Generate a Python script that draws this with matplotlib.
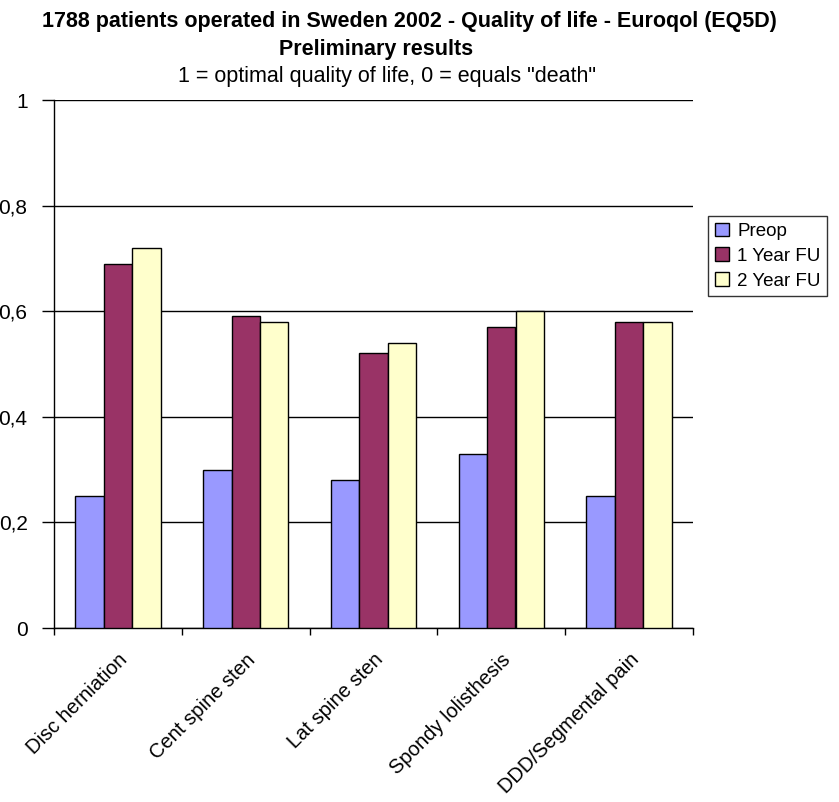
import matplotlib.pyplot as plt
import numpy as np

plt.rcParams['font.family'] = ['Liberation Sans', 'DejaVu Sans']

categories = ['Disc herniation', 'Cent spine sten', 'Lat spine sten',
              'Spondy lolisthesis', 'DDD/Segmental pain']
series = ['Preop', '1 Year FU', '2 Year FU']
preop = [0.25, 0.30, 0.28, 0.33, 0.25]
year1 = [0.69, 0.59, 0.52, 0.57, 0.58]
year2 = [0.72, 0.58, 0.54, 0.60, 0.58]
colors = ['#9999FF', '#993366', '#FFFFCC']

W, H = 839, 802
fig = plt.figure(figsize=(W / 100, H / 100), dpi=100)
ax = fig.add_axes([54 / W, 1 - 628 / H, (693 - 54) / W, (628 - 100) / H])

x = np.arange(len(categories))
w = 1 / 4.5
for i, (vals, c, lab) in enumerate(zip([preop, year1, year2], colors, series)):
    ax.bar(x + (i - 1) * w, vals, w, color=c, edgecolor='black',
           linewidth=1, label=lab, zorder=3)

ax.set_xlim(-0.5, len(categories) - 0.5)
ax.set_ylim(0, 1)
ax.set_yticks(np.arange(0, 1.01, 0.2))
ax.set_yticklabels(['0', '0,2', '0,4', '0,6', '0,8', '1'], fontsize=15)
ax.yaxis.grid(True, color='black', linewidth=1, zorder=0)

# boundaries get the tick marks, centres get the labels
ax.set_xticks(np.arange(-0.5, len(categories)))
ax.set_xticklabels([])
ax.set_xticks(x, minor=True)
ax.set_xticklabels(categories, minor=True, rotation=45, ha='right',
                   rotation_mode='anchor', fontsize=14.5)
ax.tick_params(axis='x', which='minor', length=0, pad=16)
ax.tick_params(axis='x', which='major', length=5, width=1, direction='out')
ax.tick_params(axis='y', length=9, width=1, direction='out', pad=10)

for s in ['top', 'right']:
    ax.spines[s].set_visible(False)
for s in ['left', 'bottom']:
    ax.spines[s].set_linewidth(1)

fig.text(409 / W, 1 - 27 / H,
         '1788 patients operated in Sweden 2002 - Quality of life - Euroqol (EQ5D)',
         ha='center', va='baseline', fontsize=15.5, fontweight='bold')
fig.text(376 / W, 1 - 55 / H, 'Preliminary results', ha='center',
         va='baseline', fontsize=15.5, fontweight='bold')
fig.text(387 / W, 1 - 82 / H, '1 = optimal quality of life, 0 = equals "death"',
         ha='center', va='baseline', fontsize=15.5)

leg = fig.legend(loc='upper left', bbox_to_anchor=(708 / W, 1 - 216 / H),
                 fontsize=13.5, frameon=True, fancybox=False,
                 edgecolor='black', handlelength=0.75, handleheight=0.75,
                 handletextpad=0.45, borderpad=0.35, labelspacing=0.4,
                 borderaxespad=0)
leg.get_frame().set_linewidth(1)

fig.savefig('out.png', dpi=100)
